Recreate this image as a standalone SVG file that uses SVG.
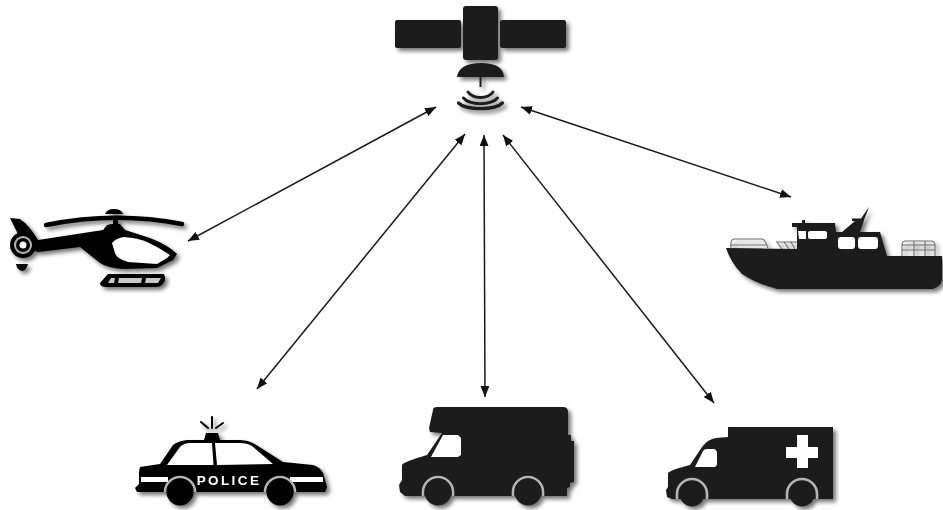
<svg xmlns="http://www.w3.org/2000/svg" width="943" height="510" viewBox="0 0 943 510">
<style>
.k{fill:#1f1c1d}
.b .k,.b .wheel{fill:#050505}
.w{fill:#fff}
.ws{fill:none;stroke:#1f1c1d;stroke-linecap:round}
.b .ws{stroke:#050505}
.rail{fill:none;stroke:#6f6f6f;stroke-width:1.100}
.wheel{fill:#1f1c1d}
.arch{fill:none;stroke:#b4b4b4;stroke-width:2.600}
.icon{filter:url(#sh)}
.c{fill:none;stroke:#1a1a1a;stroke-width:1.500;marker-start:url(#as);marker-end:url(#ae)}
.t{font-family:"Liberation Sans",Arial,sans-serif;font-weight:700;font-size:13.500px;letter-spacing:2.400px;fill:#fff;text-anchor:middle}
</style>
<defs>
<filter id="sh" x="-10%" y="-10%" width="125%" height="125%">
<feGaussianBlur in="SourceGraphic" stdDeviation="0.5" result="b"/>
<feGaussianBlur in="SourceAlpha" stdDeviation="2" result="a"/>
<feOffset in="a" dx="2.500" dy="2.500" result="o"/>
<feComponentTransfer in="o" result="s"><feFuncA type="linear" slope="0.55"/></feComponentTransfer>
<feMerge><feMergeNode in="s"/><feMergeNode in="b"/></feMerge>
</filter>
<marker id="ae" viewBox="0 0 11 9" refX="11" refY="4.500" markerWidth="11" markerHeight="9" markerUnits="userSpaceOnUse" orient="auto"><path d="M0,0L11,4.500L0,9Z" fill="#111"/></marker>
<marker id="as" viewBox="0 0 11 9" refX="0" refY="4.500" markerWidth="11" markerHeight="9" markerUnits="userSpaceOnUse" orient="auto"><path d="M11,0L0,4.500L11,9Z" fill="#111"/></marker>
</defs>
<rect width="943" height="510" fill="#fff"/>
<g id="connectors">
<path class="c" d="M436,107L188,241"/>
<path class="c" d="M465,134L257,389"/>
<path class="c" d="M484,135L485,397"/>
<path class="c" d="M503,135L714,403"/>
<path class="c" d="M521,107L791,197"/>
</g>
<g id="satellite" class="icon">
<rect class="k" x="395" y="20" width="66" height="28" rx="2"/>
<rect class="k" x="463" y="6" width="35" height="54" rx="3"/>
<rect class="k" x="500" y="20" width="66" height="28" rx="2"/>
<path class="k" d="M457,77Q459,63 481,63Q503,63 504,77Z"/>
<rect class="k" x="479.500" y="77" width="2" height="10"/>
<path class="ws" stroke-width="3.200" d="M458.500,103C466,110.500 495,110.500 502.500,103"/>
<path class="ws" stroke-width="3" d="M463.500,98C470,105.500 491,105.500 497.500,98"/>
<path class="ws" stroke-width="3" d="M468,92C473,99.300 488,99.300 493,92"/>
</g>
<g id="helicopter" class="icon b">
<path class="ws" stroke-width="4.500" stroke-linecap="butt" d="M46,225Q115,211 182,224"/>
<path class="k" d="M105,214Q107,209 114,209Q121,209 123,214Z"/>
<rect class="k" x="113" y="216" width="5" height="10"/>
<path class="k" d="M10,218L20,219Q29,225 38,240L103,230L107,225Q114,223 120,224L125,230L150,238Q168,245 177,254L173,260L157,268L123,269Q108,268 100,263Q90,255 80,247L38,252L20,246L17,232Z"/>
<path class="w" d="M112,243Q116,238 124,237Q138,238 147,242Q160,248 170,255L167,258L157,264L128,262Q117,259 115,253Z"/>
<circle class="k" cx="23" cy="245" r="13"/>
<circle cx="23" cy="245" r="9" fill="#b5b5b5"/>
<circle class="k" cx="23" cy="245" r="7"/>
<circle class="w" cx="23" cy="245" r="3.500"/>
<path class="k" d="M16,264L28,264Q26,271 22,271Q17,270 16,264Z"/>
<path class="k" d="M108,274H164Q167,280 162,285Q160,287 156,287H106Q100,287 100,283Z"/>
<path fill="#c8c8c8" d="M111,278H115L114,283H108ZM119,278H142L141,283H118ZM146,278H161L158,283H145Z"/>
</g>
<g id="boat" class="icon">
<path class="rail" d="M731,248V243Q731,239 735,239H762Q765,239 768,248M730,245H766"/>
<path class="rail" d="M776,242H797M777,242L782,249M784,242L789,249M791,242L795,249"/>
<path class="rail" d="M902,256V245Q902,241 906,241H931Q935,241 935,245V256M902,245H935M902,250H935M914,241V256M925,241V256"/>
<path class="k" d="M726,248L797,249V227H792V223H802V220H805V223H835L836,232H842L855,221H852V218.500H861L869,207L864,220L860,232H880L887,256H942V280Q941,286 933,289H777Q757,284 742,274Q731,263 726,248Z"/>
<path class="w" d="M798,231H806V239H799Z"/>
<rect class="w" x="808" y="231" width="19" height="8" rx="2"/>
<rect class="w" x="838" y="237" width="17" height="12" rx="3"/>
<rect class="w" x="858" y="237" width="20" height="12" rx="3"/>
</g>
<g id="police-car" class="icon b">
<path class="k" d="M139,472L140,467L160,464L173,445Q178,441 187,440H240Q247,440 253,443L283,462L313,465Q320,467 323,473L327,487L325,492H137L135,488L139,484Z"/>
<path class="w" d="M167,465L180,447Q184,443 190,443H212L213.500,465Z"/>
<path class="w" d="M215,443H240Q247,443 252,446L273,464L217,465Z"/>
<rect class="w" x="141" y="477" width="27" height="5"/>
<rect class="w" x="290" y="477" width="33" height="5"/>
<path class="k" d="M204,440L206,433H218L220,440Z"/>
<path class="ws" stroke-width="2" stroke-linecap="butt" d="M212,417V428M201,422L208,428M223,423L216,428"/>
<path class="arch" d="M165,492A15,15 0 0 1 195,492"/>
<path class="arch" d="M265,492A15,15 0 0 1 295,492"/>
<circle class="wheel" cx="180" cy="492" r="13.500"/>
<circle class="wheel" cx="280" cy="492" r="13.500"/>
<text class="t" x="229" y="485">POLICE</text>
</g>
<g id="truck" class="icon">
<path class="k" d="M433,410Q433,407 437,407H563Q568,407 568,412V435H571V441H574V482L570,483V487L567,488V496H405L400,492L399,485L402,480V465Q403,462 427,455L442,433L430,432L429,428Z"/>
<path class="w" d="M431,457L443,435H458L461,438V455L458,457Z"/>
<path class="arch" d="M423,496V492A15,15 0 0 1 453,492V496"/>
<path class="arch" d="M513,496V492A15,15 0 0 1 543,492V496"/>
<circle class="wheel" cx="438" cy="492" r="13.500"/>
<circle class="wheel" cx="528" cy="492" r="13.500"/>
</g>
<g id="ambulance" class="icon">
<path class="k" d="M728,427H833V499H672L667,497L666,490L668,487V473Q670,470 690,465L702,447Q708,439 716,438L728,437Z"/>
<path class="w" d="M695,467L703,451Q704,449 707,449H715L717,452V465L715,467Z"/>
<path class="w" d="M797,435H808V447H818V458H808V468H797V458H786V447H797Z"/>
<path class="arch" d="M677,499V494A15,15 0 0 1 707,494V499"/>
<path class="arch" d="M787,499V494A15,15 0 0 1 817,494V499"/>
<circle class="wheel" cx="692" cy="494" r="12.500"/>
<circle class="wheel" cx="802" cy="494" r="12.500"/>
</g>
</svg>
